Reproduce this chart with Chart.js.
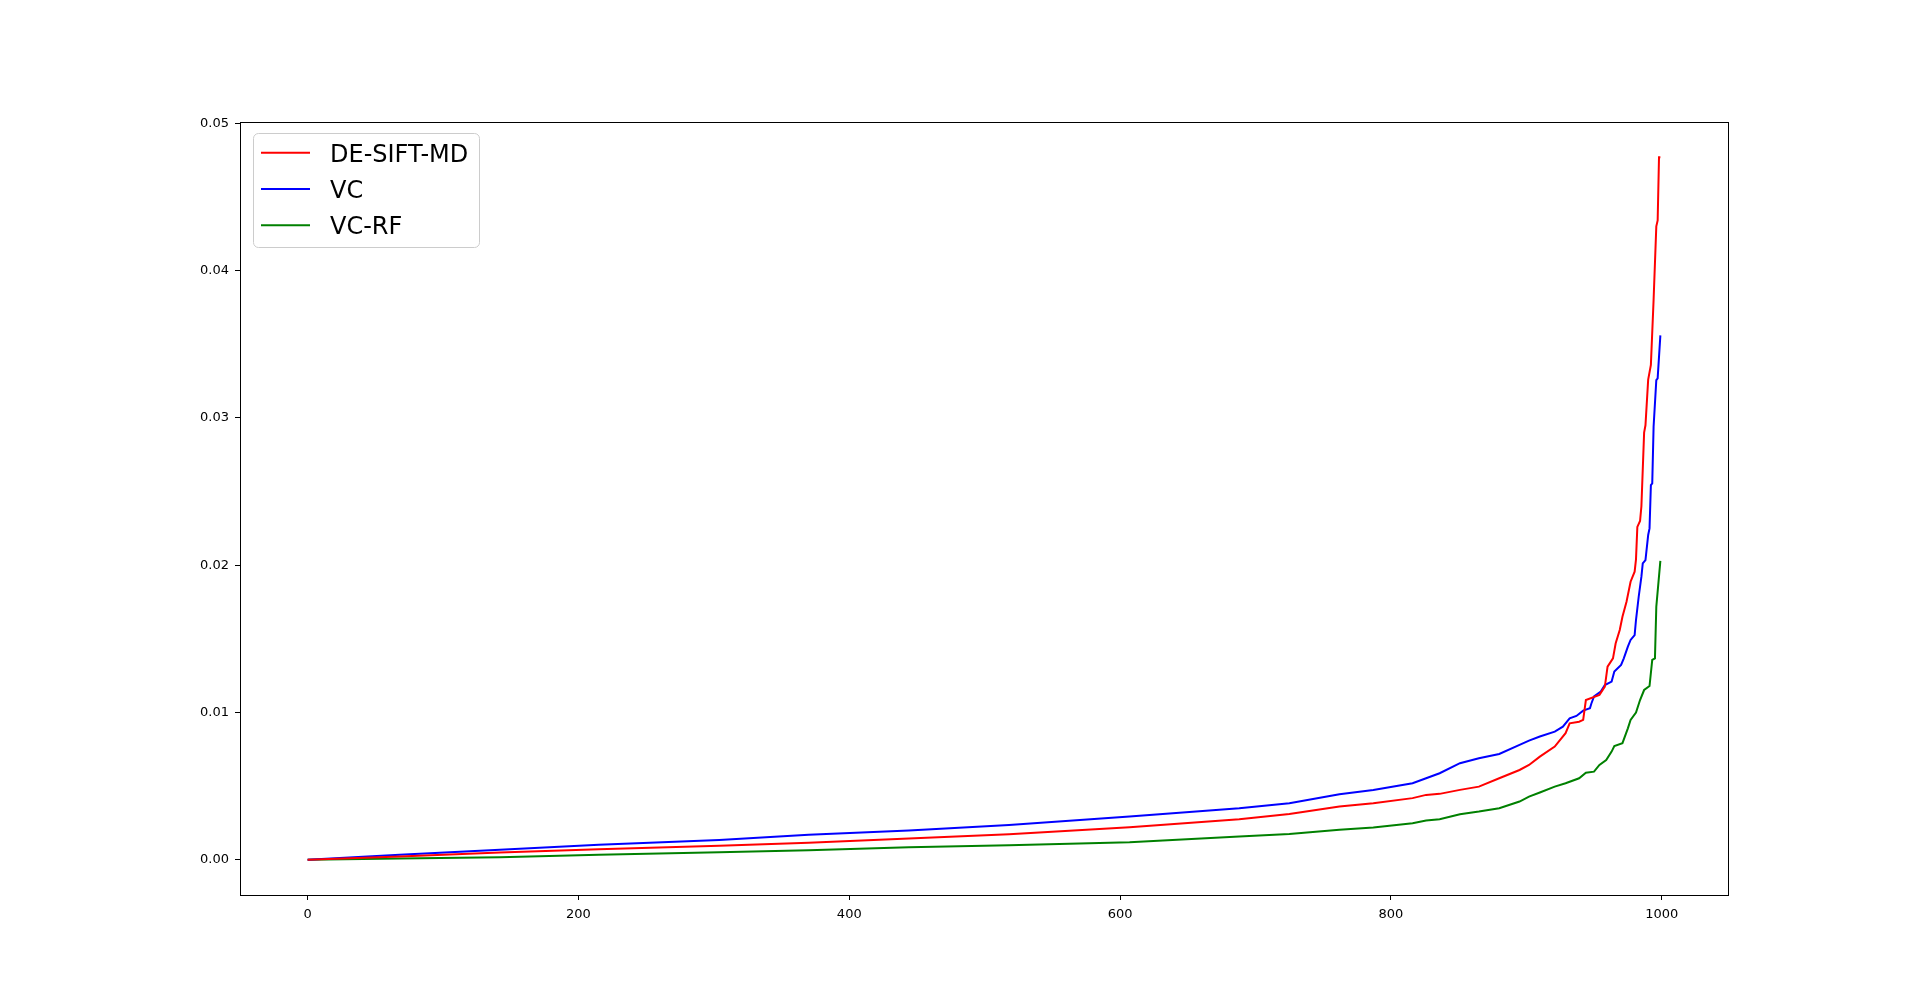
<!DOCTYPE html>
<html><head><meta charset="utf-8">
<script src="https://cdn.jsdelivr.net/npm/chart.js@4/dist/chart.umd.min.js"></script>
<style>html,body{margin:0;padding:0;background:#fff;overflow:hidden}canvas{display:block}</style>
</head><body>
<canvas id="c" width="1920" height="1006"></canvas>
<script>
const seriesLabels = ['DE-SIFT-MD', 'VC', 'VC-RF'];
const seriesColors = ['#ff0000', '#0000ff', '#008000'];

const deSiftX = [0,68,142,215,304,370,444,518,607,688,725,762,787,816,826,836,851,865,880,895,902,910,921,929,932,939,942,944,954,958,960,964,966,969,971,974,977,980,981,982,984,985,987,988,990,992,994,996,997,998,999];
const deSiftY = [0,0.00023,0.0005,0.00072,0.00095,0.00117,0.00145,0.00174,0.00222,0.00276,0.00312,0.00362,0.00385,0.00419,0.00441,0.00448,0.00475,0.00497,0.00554,0.0061,0.00644,0.00701,0.00769,0.0086,0.00927,0.00938,0.0095,0.01085,0.0112,0.01176,0.01311,0.01368,0.0147,0.0156,0.0165,0.01752,0.01888,0.01956,0.0204,0.0226,0.0230,0.0240,0.0290,0.0295,0.0326,0.0336,0.0380,0.0430,0.0434,0.0477,0.0477];

const vcX = [0,68,142,215,304,370,444,518,607,688,725,762,787,816,826,836,851,865,880,895,902,910,921,927,932,937,942,947,948,950,955,958,963,965,970,972,975,977,980,981,983,985,986,988,990,991,992,993,994,996,997,999];
const vcY = [0,0.00034,0.00068,0.00102,0.00134,0.0017,0.00199,0.00237,0.00294,0.00351,0.00385,0.00446,0.00475,0.0052,0.00554,0.00588,0.00656,0.0069,0.00719,0.0078,0.00809,0.00837,0.0087,0.00904,0.00961,0.00977,0.01013,0.01029,0.0106,0.0111,0.01142,0.01187,0.0121,0.01278,0.01323,0.01368,0.01447,0.01493,0.01526,0.01628,0.01786,0.01922,0.02013,0.02035,0.02205,0.0225,0.02544,0.02556,0.0294,0.03256,0.03268,0.0356];

const vcRfX = [0,68,142,215,304,370,444,518,607,688,725,762,787,816,826,836,851,865,880,895,902,910,921,929,939,944,950,954,959,963,965,971,975,977,981,984,987,991,993,995,996,999];
const vcRfY = [0,0.00009,0.00018,0.00034,0.00051,0.00066,0.00086,0.00099,0.0012,0.00158,0.00176,0.00204,0.00219,0.00249,0.00267,0.00276,0.0031,0.00328,0.00351,0.00396,0.00429,0.00457,0.00497,0.0052,0.00554,0.00592,0.00599,0.00644,0.00678,0.00735,0.00773,0.00792,0.00893,0.0095,0.01,0.01085,0.01153,0.0118,0.01357,0.01368,0.01718,0.0203];

const xTickValues = [0,200,400,600,800,1000];
const yTickValues = [0,0.01,0.02,0.03,0.04,0.05];

const seriesX = [deSiftX, vcX, vcRfX];
const seriesY = [deSiftY, vcY, vcRfY];

// matplotlib-style 5% margins
const allX = [].concat(...seriesX), allY = [].concat(...seriesY);
const xMin = Math.min(...allX), xMax = Math.max(...allX);
const yMin = Math.min(...allY), yMax = Math.max(...allY);
const xm = (xMax - xMin) * 0.05, ym = (yMax - yMin) * 0.05;

const datasets = seriesLabels.map((lab, i) => ({
  label: lab,
  data: seriesX[i].map((x, j) => ({x: x, y: seriesY[i][j]})),
  borderColor: seriesColors[i],
  backgroundColor: seriesColors[i],
  borderWidth: 2,
  pointRadius: 0,
  tension: 0,
  fill: false
}));

const FONT = '"DejaVu Sans", sans-serif';

const framePlugin = {
  id: 'frame',
  afterDraw(chart) {
    const a = chart.chartArea, ctx = chart.ctx;
    ctx.save();
    ctx.strokeStyle = '#000';
    ctx.lineWidth = 1;
    ctx.strokeRect(Math.round(a.left) + 0.5, Math.round(a.top) + 0.5, Math.round(a.right - a.left), Math.round(a.bottom - a.top));
    ctx.restore();
  }
};

const legendPlugin = {
  id: 'mplLegend',
  afterDraw(chart) {
    const ctx = chart.ctx;
    const ds = chart.data.datasets;
    ctx.save();
    ctx.beginPath();
    ctx.roundRect(253.5, 133.5, 226, 114, 5);
    ctx.fillStyle = 'rgba(255,255,255,0.8)';
    ctx.fill();
    ctx.strokeStyle = '#cccccc';
    ctx.lineWidth = 1;
    ctx.stroke();
    ctx.font = '24px ' + FONT;
    ctx.textBaseline = 'alphabetic';
    ctx.textAlign = 'left';
    ds.forEach((d, i) => {
      const y = 152.7 + i * 36.3;
      ctx.beginPath();
      ctx.moveTo(261, y);
      ctx.lineTo(310, y);
      ctx.strokeStyle = d.borderColor;
      ctx.lineWidth = 2;
      ctx.stroke();
      ctx.fillStyle = '#000';
      ctx.fillText(d.label, 330, y + 9);
    });
    ctx.restore();
  }
};

new Chart(document.getElementById('c'), {
  type: 'line',
  data: { datasets: datasets },
  options: {
    responsive: false,
    devicePixelRatio: 1,
    animation: false,
    layout: { padding: { top: 122, right: 192, left: 0, bottom: 0 } },
    plugins: { legend: { display: false }, tooltip: { enabled: false } },
    scales: {
      x: {
        type: 'linear',
        min: xMin - xm,
        max: xMax + xm,
        afterFit(s) { s.height = 111; },
        afterBuildTicks(s) { s.ticks = xTickValues.map(v => ({value: v})); },
        grid: { drawOnChartArea: false, drawTicks: true, tickLength: 5, tickColor: '#000', lineWidth: 1 },
        border: { display: false },
        ticks: { color: '#000', font: { family: FONT, size: 13 }, padding: 7, maxRotation: 0, callback: v => String(v) }
      },
      y: {
        type: 'linear',
        min: yMin - ym,
        max: yMax + ym,
        afterFit(s) { s.width = 240; },
        afterBuildTicks(s) { s.ticks = yTickValues.map(v => ({value: v})); },
        grid: { drawOnChartArea: false, drawTicks: true, tickLength: 5, tickColor: '#000', lineWidth: 1 },
        border: { display: false },
        ticks: { color: '#000', font: { family: FONT, size: 13 }, padding: 6, callback: v => Number(v).toFixed(2) }
      }
    }
  },
  plugins: [framePlugin, legendPlugin]
});
</script>
</body></html>
